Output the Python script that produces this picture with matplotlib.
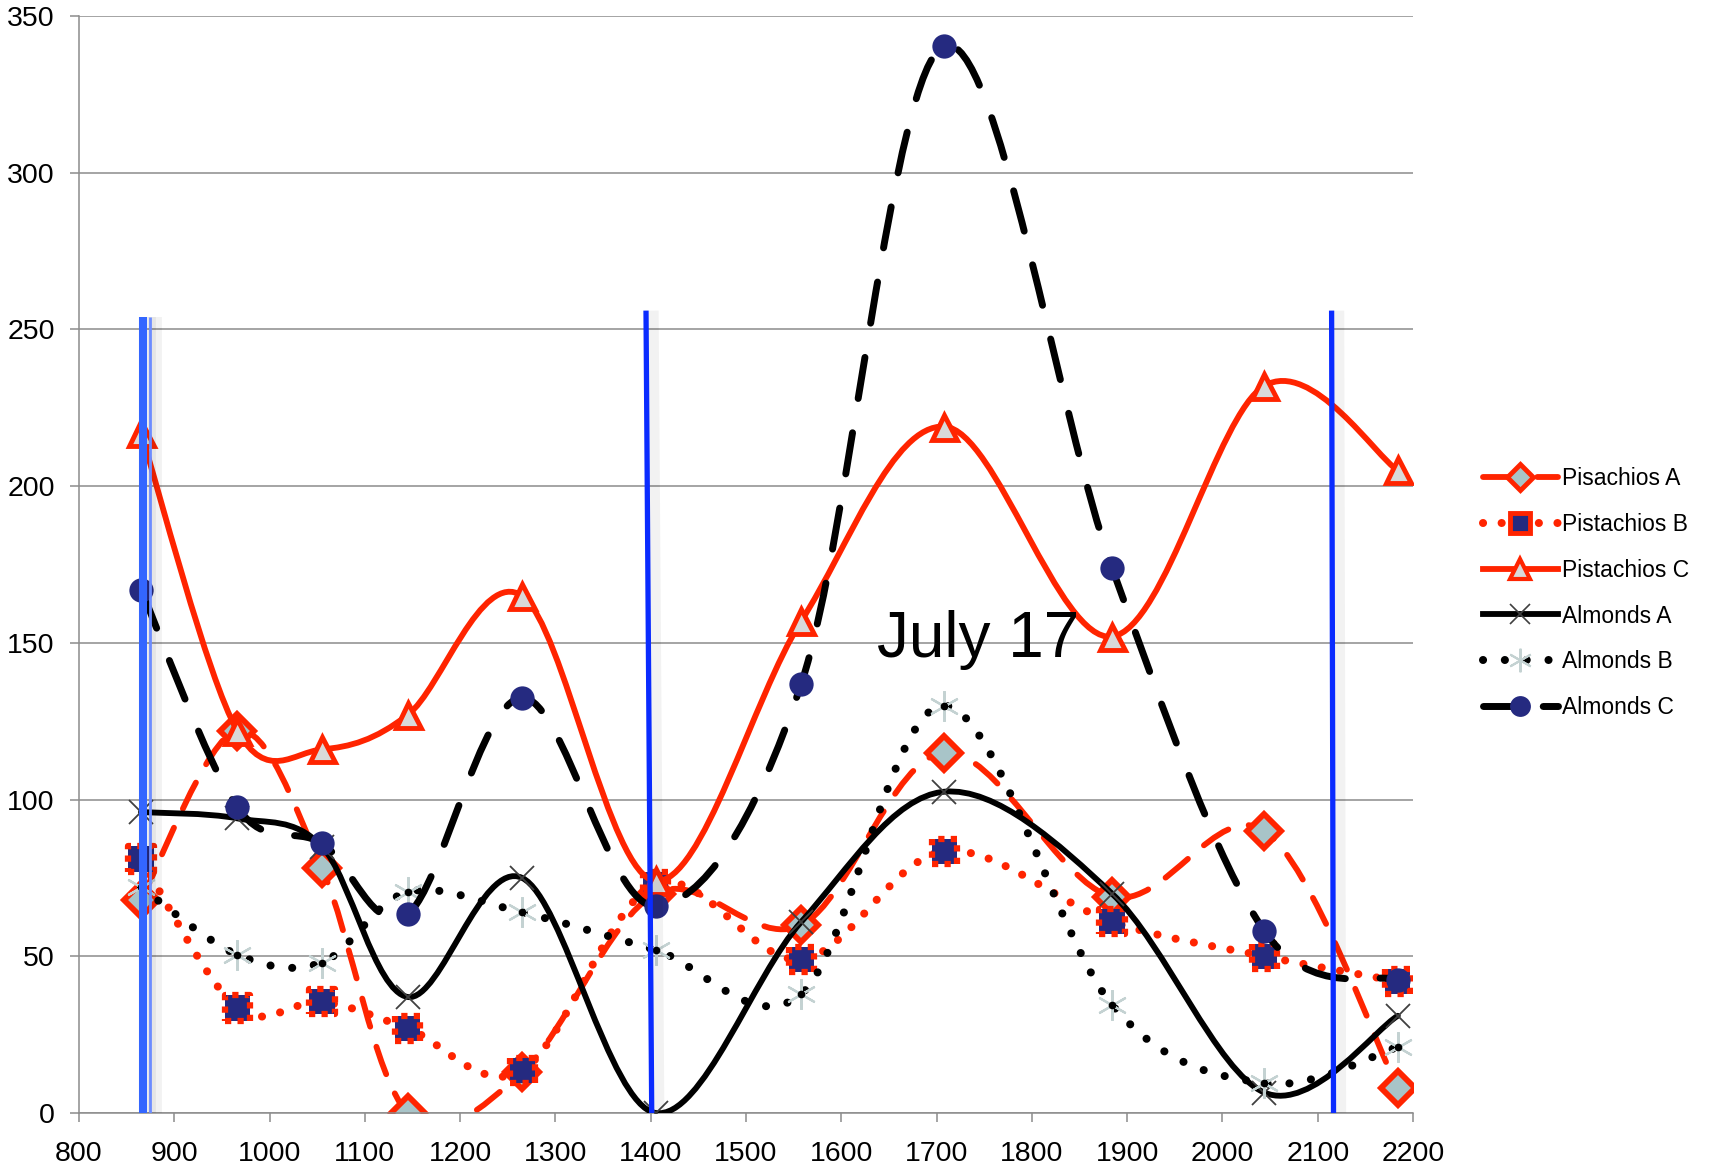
import numpy as np
import matplotlib
matplotlib.use("Agg")
import matplotlib.pyplot as plt
from matplotlib.path import Path
from matplotlib.patches import PathPatch
from matplotlib.lines import Line2D

plt.rcParams['font.family'] = ['Liberation Sans', 'DejaVu Sans']

# ---------------- data ----------------
x_vals = [865, 966, 1055, 1145, 1265, 1405, 1558, 1708, 1884, 2044, 2184]
pisachios_a = [68, 122, 78, 0, 13, 70, 60, 115, 69, 90, 8]
pistachios_b = [81, 33.5, 35.5, 27, 13.5, 73, 49, 83.5, 61, 50, 42]
pistachios_c = [217, 122, 116, 127, 165, 74, 157, 219, 152, 232, 205]
almonds_a = [96, 94, 85, 37, 75, 0, 61, 102.5, 70, 6.5, 31]
almonds_b = [72, 50.5, 48, 70.5, 64, 52, 38, 130, 34.5, 9.5, 21]
almonds_c = [167, 97.5, 86, 63.5, 132.5, 66, 137, 340.5, 174, 58, 42.5]
series_names = ["Pisachios A", "Pistachios B", "Pistachios C",
                "Almonds A", "Almonds B", "Almonds C"]
x_ticks = list(range(800, 2201, 100))
y_ticks = list(range(0, 351, 50))
# vertical marker lines: (x_top, x_bottom, top value)
vline_x_top = [867, 874, 1395, 2114.5]
vline_x_bot = [867, 874, 1401, 2116.5]
vline_top = [254, 254, 256, 256]
annotation_text = "July 17"
annotation_pos = (1637, 145.5)

RED = '#FF2400'
NAVY = '#252A80'
LGRAY = '#D9D9D9'
LBLUE = '#A8C4C8'
GRID = '#8C8C8C'

fig = plt.figure(figsize=(17.22, 11.76), dpi=100)
ax = fig.add_axes([0.0459, 0.0536, 0.7747, 0.9328])
ax.set_xlim(800, 2200)
ax.set_ylim(0, 350)


def smooth_path(xs, ys):
    pts = np.column_stack([xs, ys]).astype(float)
    n = len(pts)
    verts = [pts[0]]
    codes = [Path.MOVETO]
    for i in range(n - 1):
        p0 = pts[i - 1] if i > 0 else pts[i]
        p1 = pts[i]
        p2 = pts[i + 1]
        p3 = pts[i + 2] if i + 2 < n else pts[i + 1]
        c1 = p1 + (p2 - p0) / 6.0
        c2 = p2 - (p3 - p1) / 6.0
        verts += [c1, c2, p2]
        codes += [Path.CURVE4] * 3
    return Path(verts, codes)


def draw_curve(ys, color, lw, ls, z):
    patch = PathPatch(smooth_path(x_vals, ys), fill=False, edgecolor=color,
                      linewidth=lw, linestyle=ls, capstyle='round',
                      joinstyle='round', zorder=z)
    ax.add_patch(patch)


LW = 4.2
LW_DASH_BLK = 5.0
LW_DOT = 5.8
dash_red = (0, (5.0, 3.6))
dash_blk = (0, (6.0, 5.0))
dot_red = (0, (0.01, 2.3))
dot_blk = (0, (0.01, 2.7))

# Pisachios A
draw_curve(pisachios_a, RED, LW, dash_red, 2)
ax.plot(x_vals, pisachios_a, ls='none', marker='D', ms=17, mfc=LBLUE,
        mec=RED, mew=4.2, zorder=2.5)
# Pistachios B
draw_curve(pistachios_b, RED, LW_DOT, dot_red, 3)
ax.scatter(x_vals, pistachios_b, marker='s', s=330, c=NAVY, edgecolors=RED,
           linewidths=4.5, linestyles=(0, (1.0, 1.0)), zorder=3.5)
# Pistachios C
draw_curve(pistachios_c, RED, LW, '-', 4)
ax.plot(x_vals, pistachios_c, ls='none', marker='^', ms=18, mfc=LGRAY,
        mec=RED, mew=3.5, zorder=4.5)
# Almonds A
draw_curve(almonds_a, 'black', LW, '-', 5)
ax.plot(x_vals, almonds_a, ls='none', marker='x', ms=17, mec='#404040',
        mew=1.3, zorder=5.5)
# Almonds B
draw_curve(almonds_b, 'black', LW_DOT, dot_blk, 6)
ax.plot(x_vals, almonds_b, ls='none', marker=(6, 2, 0), ms=22, mec='#C4D2D2',
        mew=1.6, zorder=6.5)
ax.plot(x_vals, almonds_b, ls='none', marker='o', ms=4.5, mfc='black',
        mec='black', zorder=6.6)
# Almonds C
draw_curve(almonds_c, 'black', LW_DASH_BLK, dash_blk, 7)
ax.plot(x_vals, almonds_c, ls='none', marker='o', ms=17.5, mfc=NAVY,
        mec=NAVY, mew=0, zorder=7.5)

# vertical blue lines
vcolors = ['#3366FF', '#6C8CFF', '#0A2BFF', '#0A2BFF']
vwidths = [5.8, 2.0, 3.8, 3.8]
for xt, xb, top, c, w in zip(vline_x_top, vline_x_bot, vline_top, vcolors, vwidths):
    ax.plot([xb + 6, xt + 6], [0, top], color='black', alpha=0.05, lw=10,
            solid_capstyle='butt', zorder=9)
    ax.plot([xb, xt], [0, top], color=c, lw=w, solid_capstyle='butt', zorder=10)

ax.text(annotation_pos[0], annotation_pos[1], annotation_text, fontsize=46,
        ha='left', va='baseline', color='black', zorder=11)

# axes styling
ax.set_xticks(x_ticks)
ax.set_yticks(y_ticks)
ax.set_xticklabels([str(v) for v in x_ticks])
ax.set_yticklabels([str(v) for v in y_ticks])
ax.grid(axis='y', color=GRID, lw=1.1)
ax.set_axisbelow(True)
for s in ['top', 'right']:
    ax.spines[s].set_visible(False)
for s in ['left', 'bottom']:
    ax.spines[s].set_color(GRID)
    ax.spines[s].set_linewidth(1.1)
ax.tick_params(axis='both', colors=GRID, labelcolor='black', labelsize=20.5,
               length=6.5, width=1.1)
ax.tick_params(axis='y', pad=11)
ax.tick_params(axis='x', pad=14)

# legend
handles = [
    Line2D([], [], color=RED, lw=LW, ls=(0, (7.5, 1.8)), marker='D', ms=13,
           mfc=LBLUE, mec=RED, mew=3.5, dash_capstyle='round'),
    Line2D([], [], color=RED, lw=LW_DOT, ls=dot_red, marker='s', ms=14,
           mfc=NAVY, mec=RED, mew=3.5, dash_capstyle='round'),
    Line2D([], [], color=RED, lw=LW, ls='-', marker='^', ms=14,
           mfc=LGRAY, mec=RED, mew=3),
    Line2D([], [], color='black', lw=LW, ls='-', marker='x', ms=14,
           mec='#404040', mew=1.2),
    Line2D([], [], color='black', lw=LW_DOT, ls=dot_blk, marker=(6, 2, 0), ms=17,
           mec='#C4D2D2', mew=1.5, dash_capstyle='round'),
    Line2D([], [], color='black', lw=LW_DASH_BLK, ls=(0, (6.0, 2.6)), marker='o',
           ms=15, mfc=NAVY, mec=NAVY, mew=0, dash_capstyle='round'),
]
fig.legend(handles, series_names, loc='center left',
           bbox_to_anchor=(0.861, 0.4957), bbox_transform=fig.transFigure,
           frameon=False, fontsize=16.5, handlelength=3.3, handletextpad=0.15,
           labelspacing=1.0, borderpad=0, borderaxespad=0, numpoints=1)

fig.savefig('out.png', dpi=100)
